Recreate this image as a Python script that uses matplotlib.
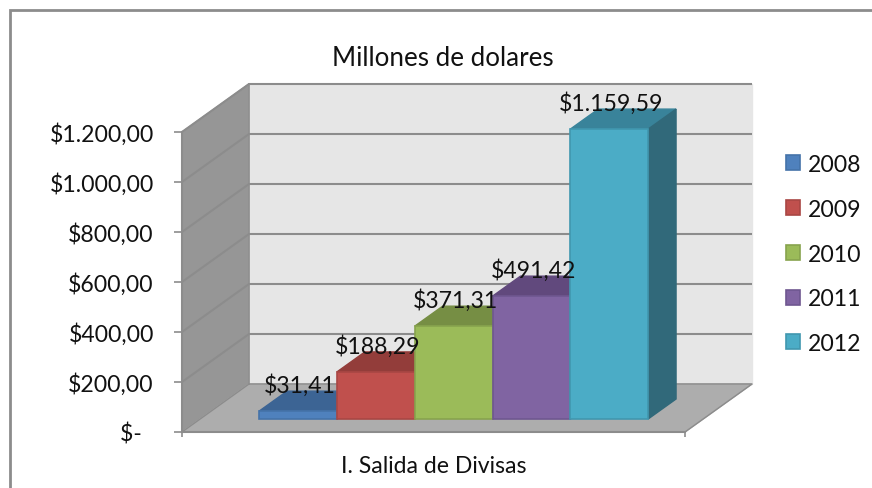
import matplotlib
matplotlib.use("Agg")
import matplotlib.pyplot as plt
from matplotlib.patches import Polygon
from matplotlib.lines import Line2D

plt.rcParams['font.family'] = ['Lato', 'DejaVu Sans']

title = "Millones de dolares"
category = "I. Salida de Divisas"
years = ["2008", "2009", "2010", "2011", "2012"]
values = [31.41, 188.29, 371.31, 491.42, 1159.59]
value_labels = ["$31,41", "$188,29", "$371,31", "$491,42", "$1.159,59"]
colors = ["#4F81BD", "#C0504D", "#9BBB59", "#8064A2", "#4BACC6"]
tops = ["#3C6494", "#933D3A", "#768E44", "#61497D", "#39839A"]
sides = ["#315278", "#77312F", "#607438", "#503C66", "#31697A"]
edges = ["#4573A9", "#A94744", "#87A34E", "#6F5790", "#4197AF"]
y_ticks = [0, 200, 400, 600, 800, 1000, 1200]
y_tick_labels = ["$-  ", "$200,00", "$400,00", "$600,00", "$800,00", "$1.000,00", "$1.200,00"]

W, H = 872, 489
LINE = "#8C8C8C"
FS = 16.6

fig = plt.figure(figsize=(W / 100, H / 100), dpi=100)
fig.patch.set_facecolor("white")

# plot box = the front plane of the 3d floor, in pixels
ax = fig.add_axes([182 / W, 1 - 433 / H, 503 / W, 300 / H])
ax.patch.set_visible(False)
x_lo, x_hi = -0.758, 5.707
y_hi = 1200
ax.set_xlim(x_lo, x_hi)
ax.set_ylim(0, y_hi)

px_x = (x_hi - x_lo) / 503
px_y = y_hi / 300
depth_x = 67 * px_x   # how far the whole back wall is shifted
depth_y = 48 * px_y


def shift(x, y, d):
    return x + d * depth_x, y + d * depth_y


def face(points, color, edge=None, z=1, lw=1.0):
    # points are (x, value, depth)
    xy = [shift(*p) for p in points]
    ax.add_patch(Polygon(xy, closed=True, facecolor=color, edgecolor=edge or color,
                         linewidth=lw, clip_on=False, zorder=z))


# walls and floor
face([(x_lo, 0, 0), (x_lo, y_hi, 0), (x_lo, y_hi, 1), (x_lo, 0, 1)], "#969696", z=1)
face([(x_lo, 0, 1), (x_lo, y_hi, 1), (x_hi, y_hi, 1), (x_hi, 0, 1)], "#E6E6E6", z=1)
face([(x_lo, 0, 0), (x_hi, 0, 0), (x_hi, 0, 1), (x_lo, 0, 1)], "#ADADAD", z=1)

# gridlines on both walls
for t in y_ticks[1:]:
    xs, ys = zip(shift(x_lo, t, 0), shift(x_lo, t, 1), shift(x_hi, t, 1))
    ax.plot(xs, ys, color=LINE, lw=1.5, clip_on=False, zorder=2, solid_capstyle="butt")
xs, ys = zip(shift(x_lo, 0, 1), shift(x_lo, y_hi, 1))
ax.plot(xs, ys, color=LINE, lw=1.2, clip_on=False, zorder=2)
xs, ys = zip(shift(x_lo, 0, 0), shift(x_lo, 0, 1), shift(x_hi, 0, 1), shift(x_hi, 0, 0))
ax.plot(xs, ys, color=LINE, lw=1.0, clip_on=False, zorder=2)

# bars stand between these two depths
d0, d1 = 13 / 48, 33 / 48
base_x, base_y = shift(0, 0, d0)
handles = []
for i, v in enumerate(values):
    z = 3 + i
    x0, x1 = i, i + 1
    face([(x0, v, d0), (x1, v, d0), (x1, v, d1), (x0, v, d1)], tops[i], z=z)
    face([(x1, 0, d0), (x1, v, d0), (x1, v, d1), (x1, 0, d1)], sides[i], z=z)
    bar = ax.bar(base_x + i, v, width=1, bottom=base_y, align="edge", color=colors[i],
                 edgecolor=edges[i], linewidth=1.2, clip_on=False, zorder=z + 0.5, label=years[i])
    handles.append(bar[0])
    ax.annotate(value_labels[i], (base_x + i + 0.5, base_y + v), xytext=(1.5, 19),
                textcoords="offset points", ha="center", va="center",
                fontsize=FS, color="#111111", zorder=20, annotation_clip=False)

# axes
for name in ["top", "right"]:
    ax.spines[name].set_visible(False)
for name in ["left", "bottom"]:
    ax.spines[name].set_color(LINE)
    ax.spines[name].set_linewidth(1.5)
    ax.spines[name].set_zorder(2)
ax.set_yticks(y_ticks)
ax.set_yticklabels(y_tick_labels, fontsize=FS, color="#111111")
ax.tick_params(axis="y", length=5.8, width=1.2, color=LINE, pad=14.5)
ax.set_xticks([x_lo, x_hi])
ax.set_xticklabels(["", ""])
ax.tick_params(axis="x", length=3.5, width=1.2, color=LINE)
ax.set_xlabel(category, fontsize=FS, color="#111111", labelpad=9.5)

fig.text(443 / W, 1 - 58.5 / H, title, ha="center", va="center", fontsize=18.7, color="#111111")

ax.legend(handles, years, loc="center left", bbox_to_anchor=(786 / W, 1 - 255 / H),
          bbox_transform=fig.transFigure, frameon=False, fontsize=FS,
          handlelength=0.62, handleheight=0.62, handletextpad=0.33,
          labelspacing=1.03, borderpad=0, borderaxespad=0, labelcolor="#111111")

# chart frame, only the top and left sides show in the crop
fig.add_artist(Line2D([10 / W, 10 / W, 1], [0, 1 - 11 / H, 1 - 11 / H], transform=fig.transFigure,
                      color=LINE, linewidth=2, solid_joinstyle="miter"))

fig.savefig("out.png", dpi=100)
